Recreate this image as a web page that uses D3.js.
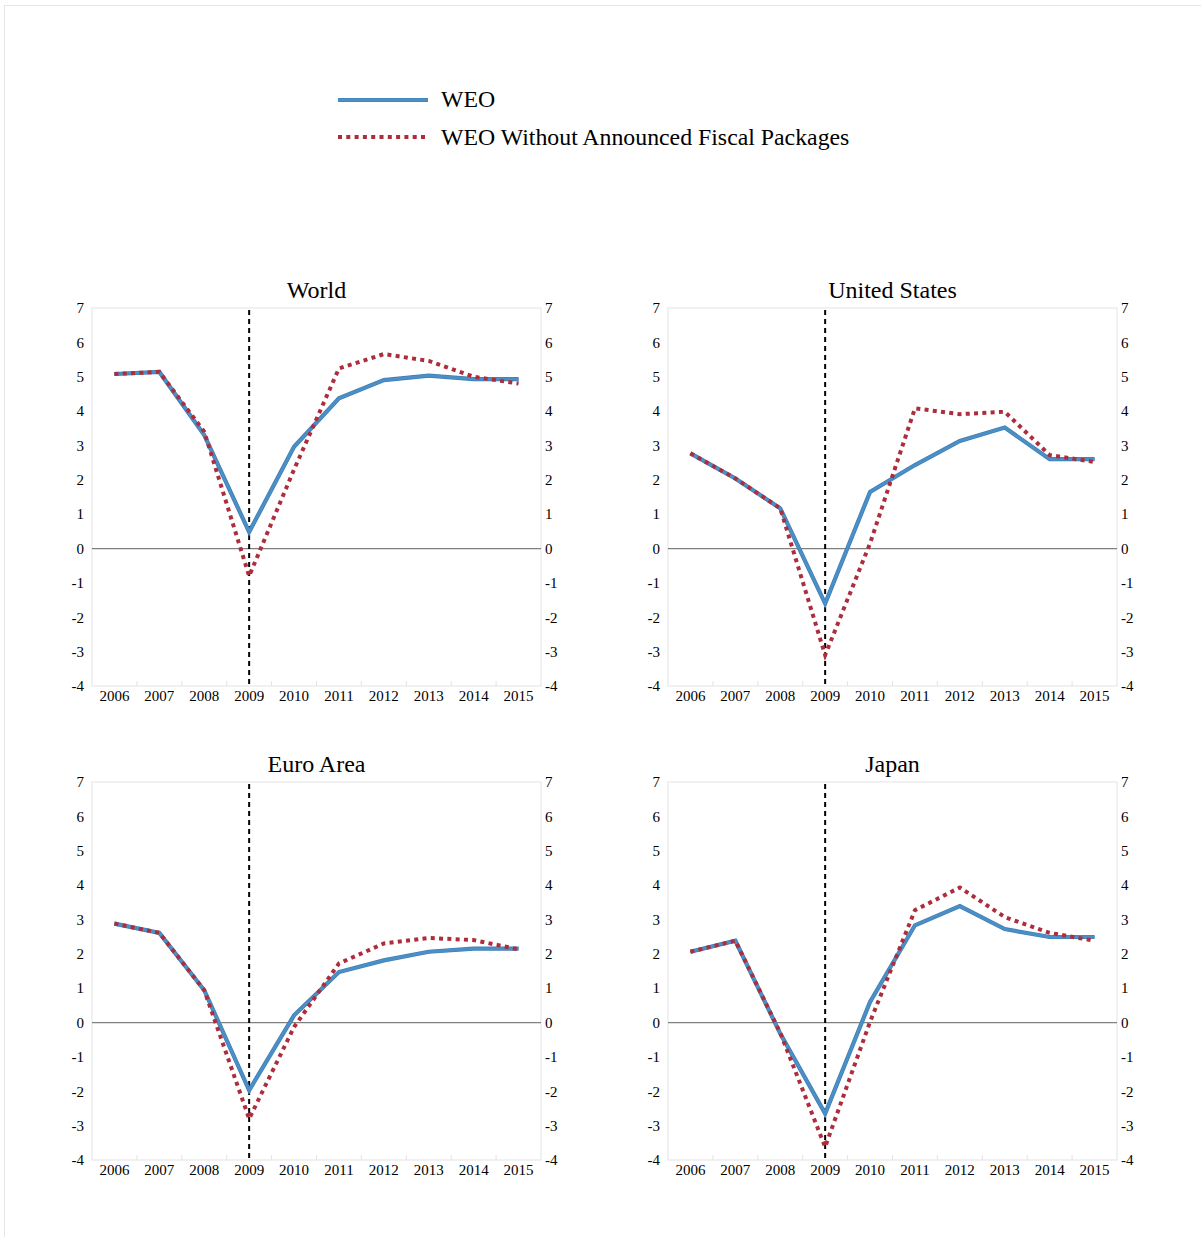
<!DOCTYPE html>
<html><head><meta charset="utf-8">
<script src="https://cdn.jsdelivr.net/npm/d3@7"></script>
<style>body{margin:0;background:#fff}svg{display:block}text{font-family:"Liberation Serif","Times New Roman",serif;fill:#000}</style>
</head><body>
<svg id="c" width="1201" height="1237"></svg>
<script>
const years = ["2006","2007","2008","2009","2010","2011","2012","2013","2014","2015"];
const yTicks = [7,6,5,4,3,2,1,0,-1,-2,-3,-4];
const seriesNames = ["WEO","WEO Without Announced Fiscal Packages"];
const panelTitles = ["World","United States","Euro Area","Japan"];
const worldWEO  = [5.08,5.14,3.3,0.48,2.96,4.37,4.9,5.03,4.93,4.93];
const worldNoFP = [5.08,5.14,3.4,-0.8,2.3,5.24,5.66,5.46,5.0,4.8];
const usWEO     = [2.77,2.04,1.17,-1.6,1.65,2.43,3.13,3.52,2.6,2.6];
const usNoFP    = [2.77,2.04,1.17,-3.1,0.15,4.08,3.91,3.98,2.72,2.52];
const euroWEO   = [2.88,2.61,0.94,-1.97,0.21,1.47,1.81,2.06,2.15,2.15];
const euroNoFP  = [2.88,2.61,0.94,-2.8,-0.13,1.72,2.3,2.46,2.4,2.13];
const japanWEO  = [2.06,2.38,-0.32,-2.65,0.6,2.83,3.39,2.72,2.49,2.49];
const japanNoFP = [2.06,2.38,-0.3,-3.62,0.02,3.27,3.93,3.07,2.61,2.38];
const markerYear = "2009";

const panels = [
  {title:panelTitles[0], a:worldWEO, b:worldNoFP, x0:92, x1:541, y0:308, y1:686},
  {title:panelTitles[1], a:usWEO, b:usNoFP, x0:668, x1:1117, y0:308, y1:686},
  {title:panelTitles[2], a:euroWEO, b:euroNoFP, x0:92, x1:541, y0:782, y1:1160},
  {title:panelTitles[3], a:japanWEO, b:japanNoFP, x0:668, x1:1117, y0:782, y1:1160}
];
const BLUE = "#4b8fc6", RED = "#ad2d3c";
const svg = d3.select("#c");
svg.append("rect").attr("x",4.5).attr("y",5.5).attr("width",1400).attr("height",1400)
  .attr("fill","none").attr("stroke","#e6e6e6");

// legend
const lg = svg.append("g");
lg.append("line").attr("x1",338).attr("x2",428).attr("y1",100).attr("y2",100)
  .attr("stroke","#3f7fb3").attr("stroke-width",4.2);
lg.append("line").attr("x1",338).attr("x2",428).attr("y1",100).attr("y2",100)
  .attr("stroke",BLUE).attr("stroke-width",2.8);
lg.append("line").attr("x1",338).attr("x2",428).attr("y1",137).attr("y2",137)
  .attr("stroke",RED).attr("stroke-width",4).attr("stroke-dasharray","4,4.3");
lg.append("text").attr("x",441).attr("y",107).attr("font-size",23.8).text(seriesNames[0]);
lg.append("text").attr("x",441).attr("y",145).attr("font-size",23.8).text(seriesNames[1]);

const fmt = d => String(d);
panels.forEach(p => {
  const g = svg.append("g");
  const x = d3.scaleBand().domain(years).range([p.x0,p.x1]);
  const y = d3.scaleLinear().domain([-4,7]).range([p.y1,p.y0]);
  g.append("rect").attr("x",p.x0).attr("y",p.y0).attr("width",p.x1-p.x0).attr("height",p.y1-p.y0)
    .attr("fill","none").attr("stroke","#e3e3e3").attr("stroke-width",1);
  const bounds = years.slice(1).map(d => x(d));
  g.selectAll(".mt").data(bounds).enter().append("line")
    .attr("x1",d=>d).attr("x2",d=>d).attr("y1",p.y1).attr("y2",p.y1-5)
    .attr("stroke","#e3e3e3");
  const yl = g.append("g").attr("transform",`translate(${p.x0-8},0)`)
    .call(d3.axisLeft(y).tickValues(yTicks).tickSize(0).tickPadding(0).tickFormat(fmt));
  yl.select(".domain").remove();
  yl.selectAll("text").attr("font-size",15).attr("font-family","Liberation Serif").attr("dy","0.32em");
  const yr = g.append("g").attr("transform",`translate(${p.x1+4},0)`)
    .call(d3.axisRight(y).tickValues(yTicks).tickSize(0).tickPadding(0).tickFormat(fmt));
  yr.select(".domain").remove();
  yr.selectAll("text").attr("font-size",15).attr("font-family","Liberation Serif").attr("dy","0.32em");
  const xa = g.append("g").attr("transform",`translate(0,${p.y1+4})`)
    .call(d3.axisBottom(x).tickSize(0).tickPadding(0));
  xa.select(".domain").remove();
  xa.selectAll("text").attr("font-size",15).attr("font-family","Liberation Serif").attr("dy","0.75em");
  g.append("line").attr("x1",p.x0).attr("x2",p.x1).attr("y1",y(0)).attr("y2",y(0))
    .attr("stroke","#808080").attr("stroke-width",1.3);
  const mx = x(markerYear)+x.bandwidth()/2;
  g.append("line").attr("x1",mx).attr("x2",mx).attr("y1",p.y0+2).attr("y2",p.y1)
    .attr("stroke","#000").attr("stroke-width",2).attr("stroke-dasharray","5,4");
  const line = d3.line().x((d,i)=>x(years[i])+x.bandwidth()/2).y(d=>y(d));
  g.append("path").datum(p.a).attr("d",line).attr("fill","none")
    .attr("stroke","#3f7fb3").attr("stroke-width",4.2).attr("stroke-linejoin","miter");
  g.append("path").datum(p.a).attr("d",line).attr("fill","none")
    .attr("stroke",BLUE).attr("stroke-width",2.8).attr("stroke-linejoin","miter");
  g.append("path").datum(p.b).attr("d",line).attr("fill","none")
    .attr("stroke",RED).attr("stroke-width",4).attr("stroke-dasharray","4,4.3");
  g.append("text").attr("x",(p.x0+p.x1)/2).attr("y",p.y0-10).attr("text-anchor","middle")
    .attr("font-size",24).text(p.title);
});
</script>
</body></html>
